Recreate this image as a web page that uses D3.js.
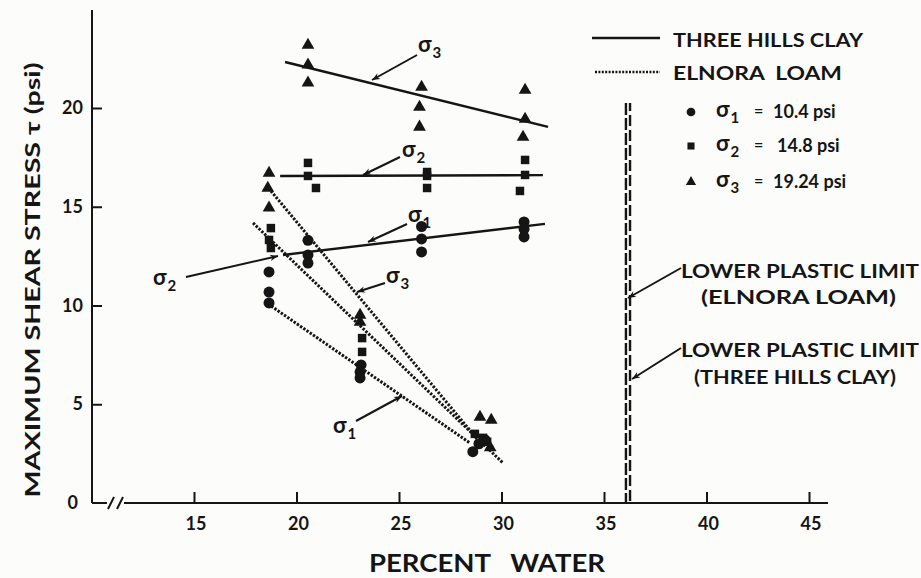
<!DOCTYPE html>
<html><head><meta charset="utf-8">
<script src="https://cdn.jsdelivr.net/npm/d3@7"></script>
<style>
html,body{margin:0;padding:0;background:#fcfcfa;}
text{font-family:Lato,"DejaVu Sans",sans-serif;font-weight:700;fill:#151515;}
</style></head><body>
<svg id="chart" width="921" height="578"></svg>
<script>
// ---------- data ----------
const xTicks = [15, 20, 25, 30, 35, 40, 45];
const yTicks = [5, 10, 15, 20];
// Three Hills Clay (solid fits)
const claySigma1 = [[20.56,13.3],[20.56,12.56],[20.56,12.15],[26.1,14.0],[26.1,13.37],[26.1,12.71],[31.1,14.23],[31.1,13.87],[31.1,13.47]];
const claySigma2 = [[20.56,17.22],[20.56,16.56],[20.95,15.95],[26.37,16.76],[26.37,16.56],[26.37,15.95],[31.15,17.37],[31.15,16.61],[30.9,15.8]];
const claySigma3 = [[20.56,23.19],[20.56,22.18],[20.56,21.27],[26.1,21.06],[26.0,20.05],[26.0,19.04],[31.15,20.91],[31.15,19.44],[31.05,18.53]];
// Elnora Loam (dotted fits)
const loamSigma1 = [[18.66,11.7],[18.66,10.68],[18.66,10.13],[23.15,6.99],[23.1,6.63],[23.1,6.33],[28.6,2.6],[28.9,3.0],[29.2,3.2]];
const loamSigma2 = [[18.75,13.92],[18.66,13.32],[18.75,12.91],[23.2,8.35],[23.2,7.65],[28.7,3.5],[29.1,3.3],[29.3,3.1]];
const loamSigma3 = [[18.66,16.71],[18.6,15.95],[18.66,14.94],[23.1,9.52],[23.1,9.16],[28.95,4.35],[29.5,4.2],[29.45,2.8]];
// fitted lines
const clayFit1 = [[19.34,12.56],[32.12,14.13]];
const clayFit2 = [[19.2,16.56],[32.02,16.6]];
const clayFit3 = [[19.44,22.33],[32.27,19.04]];
const loamFit1 = [[18.61,10.08],[28.46,3.04]];
const loamFit2 = [[17.88,14.18],[30.07,2.03]];
const loamFit3 = [[18.51,16.1],[28.85,3.19]];
// lower plastic limits (Elnora Loam, Three Hills Clay)
const plasticLimits = [36.07, 36.27];
const plasticTop = 20.25;
const legendStress = ["10.4 psi", "14.8 psi", "19.24 psi"];

// ---------- scales ----------
const svg = d3.select("#chart");
const x = d3.scaleLinear().domain([15, 45]).range([194, 809]);
const y = d3.scaleLinear().domain([0, 20]).range([503, 108]);
const ink = "#151515";

// ---------- axes ----------
const yAxisX = 92;
svg.append("line").attr("x1", yAxisX).attr("x2", yAxisX).attr("y1", y(0)).attr("y2", 10)
  .attr("stroke", ink).attr("stroke-width", 2);
const yAx = svg.append("g").attr("transform", `translate(${yAxisX},0)`)
  .call(d3.axisRight(y).tickValues(yTicks).tickSize(10).tickFormat(""));
yAx.select(".domain").remove();
yAx.selectAll("line").attr("stroke", ink).attr("stroke-width", 2);
svg.selectAll(".ylab").data(yTicks.concat([0])).join("text")
  .attr("x", d => d === 0 ? 78 : 83).attr("y", d => y(d) + 6)
  .attr("text-anchor", "end").attr("font-size", 18).text(d => d);

// x axis with break
svg.append("line").attr("x1", yAxisX).attr("x2", 107).attr("y1", y(0)).attr("y2", y(0))
  .attr("stroke", ink).attr("stroke-width", 2);
svg.append("line").attr("x1", 124).attr("x2", 828).attr("y1", y(0)).attr("y2", y(0))
  .attr("stroke", ink).attr("stroke-width", 2);
[[108,509,114,497],[117,509,123,497]].forEach(s =>
  svg.append("line").attr("x1", s[0]).attr("y1", s[1]).attr("x2", s[2]).attr("y2", s[3])
    .attr("stroke", ink).attr("stroke-width", 2));
const xAx = svg.append("g").attr("transform", `translate(0,${y(0)})`)
  .call(d3.axisTop(x).tickValues(xTicks).tickSize(11).tickFormat(""));
xAx.select(".domain").remove();
xAx.selectAll("line").attr("stroke", ink).attr("stroke-width", 2);
svg.selectAll(".xlab").data(xTicks).join("text")
  .attr("x", d => x(d) + 2).attr("y", 530).attr("text-anchor", "middle")
  .attr("font-size", 18).text(d => d);

svg.append("text").attr("x", 487).attr("y", 572).attr("text-anchor", "middle")
  .attr("font-size", 24).attr("font-weight", 500).attr("textLength", 236)
  .attr("lengthAdjust", "spacingAndGlyphs").style("white-space", "pre").text("PERCENT   WATER");
svg.append("text").attr("transform", "translate(40,280) rotate(-90)")
  .attr("text-anchor", "middle").attr("font-size", 21).attr("textLength", 435)
  .attr("lengthAdjust", "spacingAndGlyphs").text("MAXIMUM SHEAR STRESS \u03c4 (psi)");

// ---------- fitted lines ----------
const line = d3.line().x(d => x(d[0])).y(d => y(d[1]));
[clayFit1, clayFit2, clayFit3].forEach(f =>
  svg.append("path").attr("d", line(f)).attr("fill", "none").attr("stroke", ink).attr("stroke-width", 2.4));
[loamFit1, loamFit2, loamFit3].forEach(f =>
  svg.append("path").attr("d", line(f)).attr("fill", "none").attr("stroke", ink)
    .attr("stroke-width", 3).attr("stroke-dasharray", "2.4 1.5"));

// ---------- plastic limit double dashed line ----------
plasticLimits.forEach((p, i) =>
  svg.append("line").attr("x1", x(p)).attr("x2", x(p)).attr("y1", y(plasticTop)).attr("y2", y(0))
    .attr("stroke", ink).attr("stroke-width", 2.4).attr("stroke-dasharray", i ? "11 4" : "12 3")
    .attr("stroke-dashoffset", i ? 3 : 0));

// ---------- symbols ----------
const sym = {
  circle: d3.symbol().type(d3.symbolCircle).size(95),
  square: d3.symbol().type(d3.symbolSquare).size(72),
  triangle: d3.symbol().type(d3.symbolTriangle).size(70)
};
function plot(data, kind) {
  svg.append("g").selectAll("path").data(data).join("path")
    .attr("d", sym[kind]()).attr("fill", ink)
    .attr("transform", d => `translate(${x(d[0])},${y(d[1])})`);
}
plot(claySigma1, "circle"); plot(loamSigma1, "circle");
plot(claySigma2, "square"); plot(loamSigma2, "square");
plot(claySigma3, "triangle"); plot(loamSigma3, "triangle");

// ---------- annotations ----------
const defs = svg.append("defs");
defs.append("marker").attr("id", "ah").attr("viewBox", "0 0 10 10").attr("refX", 10).attr("refY", 5)
  .attr("markerWidth", 11).attr("markerHeight", 8).attr("markerUnits", "userSpaceOnUse").attr("orient", "auto")
  .append("path").attr("d", "M0,1 L10,5 L0,9 L3,5 Z").attr("fill", ink);
function arrow(x1, y1, x2, y2) {
  svg.append("line").attr("x1", x1).attr("y1", y1).attr("x2", x2).attr("y2", y2)
    .attr("stroke", ink).attr("stroke-width", 2).attr("marker-end", "url(#ah)");
}
function sigma(px, py, sub) {
  const t = svg.append("text").attr("x", px).attr("y", py).attr("font-size", 22);
  t.append("tspan").text("\u03c3");
  t.append("tspan").attr("font-size", 15).attr("dy", 6).attr("dx", 1).text(sub);
}
// clay labels
sigma(418, 52, "3"); arrow(417, 55, 372, 80);
sigma(402, 157, "2"); arrow(400, 157, 363, 175);
sigma(408, 222, "1"); arrow(407, 224, 368, 242);
// loam labels
sigma(386, 283, "3"); arrow(385, 283, 357, 292);
sigma(333, 433, "1"); arrow(356, 421, 402, 396);
sigma(153, 285, "2"); arrow(186, 277, 278, 256);

// plastic limit labels
svg.append("text").attr("x", 681).attr("y", 278).attr("font-size", 18).attr("font-weight", 500)
  .attr("textLength", 238).attr("lengthAdjust", "spacingAndGlyphs").text("LOWER PLASTIC LIMIT");
svg.append("text").attr("x", 701).attr("y", 304).attr("font-size", 18).attr("font-weight", 500)
  .attr("textLength", 195).attr("lengthAdjust", "spacingAndGlyphs").text("(ELNORA LOAM)");
arrow(681, 268, x(plasticLimits[0]) + 2, 298);
svg.append("text").attr("x", 681).attr("y", 357).attr("font-size", 18).attr("font-weight", 500)
  .attr("textLength", 238).attr("lengthAdjust", "spacingAndGlyphs").text("LOWER PLASTIC LIMIT");
svg.append("text").attr("x", 694).attr("y", 384).attr("font-size", 18).attr("font-weight", 500)
  .attr("textLength", 202).attr("lengthAdjust", "spacingAndGlyphs").text("(THREE HILLS CLAY)");
arrow(681, 348, x(plasticLimits[1]) + 2, 379);

// ---------- legend ----------
svg.append("line").attr("x1", 592).attr("x2", 660).attr("y1", 38).attr("y2", 38)
  .attr("stroke", ink).attr("stroke-width", 2.4);
svg.append("line").attr("x1", 595).attr("x2", 660).attr("y1", 72).attr("y2", 72)
  .attr("stroke", ink).attr("stroke-width", 2.6).attr("stroke-dasharray", "2 1.4");
svg.append("text").attr("x", 673).attr("y", 47).attr("font-size", 18).attr("font-weight", 500)
  .attr("textLength", 190).attr("lengthAdjust", "spacingAndGlyphs").text("THREE HILLS CLAY");
svg.append("text").attr("x", 673).attr("y", 80).attr("font-size", 18).attr("font-weight", 500)
  .attr("textLength", 169).attr("lengthAdjust", "spacingAndGlyphs").style("white-space", "pre").text("ELNORA  LOAM");
const legY = [112, 146, 182];
legY.forEach((ly, i) => {
  svg.append("path").attr("d", d3.symbol().type([d3.symbolCircle, d3.symbolSquare, d3.symbolTriangle][i]).size([60, 50, 45][i])())
    .attr("fill", ink).attr("transform", `translate(691,${ly})`);
  sigma(716, ly + 5, String(i + 1));
  svg.append("text").attr("x", 754).attr("y", ly + 4).attr("font-size", 16).text("=");
  svg.append("text").attr("x", i === 1 ? 777 : 773).attr("y", ly + 6).attr("font-size", 18)
    .attr("font-weight", 500).text(legendStress[i]);
});
</script>
</body></html>
